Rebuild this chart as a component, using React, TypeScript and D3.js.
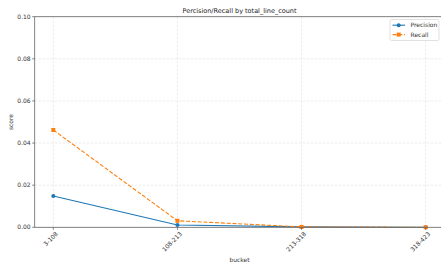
import React from "react";
import * as d3 from "d3";

const categories = ["3-108", "108-213", "213-318", "318-423"];
const precision = [0.0149, 0.0011, 0.0002, 0.0];
const recall = [0.0462, 0.0031, 0.0002, 0.0];
const yTicks = [0, 0.02, 0.04, 0.06, 0.08, 0.1];

const W = 441, H = 267;
const left = 34.7, right = 444.3, top = 16.7, bottom = 227.3;
const FONT = "DejaVu Sans, sans-serif";

export default function App() {
  const x = d3.scaleLinear().domain([-0.15, 3.15]).range([left, right]);
  const y = d3.scaleLinear().domain([0, 0.1]).range([bottom, top]);
  const line = d3.line<number>().x((_, i) => x(i)).y((d) => y(d));
  const blue = "#1f77b4", orange = "#ff7f0e";
  return (
    <svg width={W} height={H} style={{ position: "absolute", left: 0, top: 0, fontFamily: FONT }}>
      <rect x={0} y={0} width={W} height={H} fill="#fff" />
      {/* grid */}
      {categories.map((_, i) => (
        <line key={"gx" + i} x1={x(i)} x2={x(i)} y1={top} y2={bottom} stroke="#b0b0b0" strokeOpacity={0.4} strokeWidth={0.6} strokeDasharray="2.5,1.5" />
      ))}
      {yTicks.map((t) => (
        <line key={"gy" + t} x1={left} x2={right} y1={y(t)} y2={y(t)} stroke="#b0b0b0" strokeOpacity={0.4} strokeWidth={0.6} strokeDasharray="2.5,1.5" />
      ))}
      {/* lines */}
      <path d={line(precision) || ""} fill="none" stroke={blue} strokeWidth={1.1} />
      {precision.map((v, i) => (
        <circle key={"p" + i} cx={x(i)} cy={y(v)} r={2} fill={blue} />
      ))}
      <path d={line(recall) || ""} fill="none" stroke={orange} strokeWidth={1.1} strokeDasharray="4,1.8" />
      {recall.map((v, i) => (
        <rect key={"r" + i} x={x(i) - 2} y={y(v) - 2} width={4} height={4} fill={orange} />
      ))}
      {/* spines */}
      <rect x={left} y={top} width={right - left} height={bottom - top} fill="none" stroke="#666" strokeWidth={0.8} />
      {/* y ticks */}
      {yTicks.map((t) => (
        <g key={"yt" + t}>
          <line x1={left - 2.5} x2={left} y1={y(t)} y2={y(t)} stroke="#666" strokeWidth={0.8} />
          <text x={left - 4} y={y(t)} dy="0.35em" textAnchor="end" fontSize={6} fill="#333">{t.toFixed(2)}</text>
        </g>
      ))}
      {/* x ticks */}
      {categories.map((c, i) => (
        <g key={"xt" + i}>
          <line x1={x(i)} x2={x(i)} y1={bottom} y2={bottom + 2.5} stroke="#666" strokeWidth={0.8} />
          <text transform={`translate(${x(i) + 2},${bottom + 4}) rotate(-45)`} textAnchor="end" dy="0.7em" fontSize={6} fill="#333">{c}</text>
        </g>
      ))}
      {/* labels */}
      <text x={(left + right) / 2} y={13} textAnchor="middle" fontSize={6.5} fill="#222">Percision/Recall by total_line_count</text>
      <text x={239.5} y={262} textAnchor="middle" fontSize={6} fill="#333">bucket</text>
      <text transform={`translate(13,122) rotate(-90)`} textAnchor="middle" fontSize={6} fill="#333">score</text>
      {/* legend */}
      <g>
        <rect x={390} y={19.5} width={49} height={21} rx={1.5} fill="#fff" fillOpacity={0.8} stroke="#ccc" strokeWidth={0.6} />
        <line x1={392.5} x2={405} y1={25.2} y2={25.2} stroke={blue} strokeWidth={1.1} />
        <circle cx={398.7} cy={25.2} r={2} fill={blue} />
        <text x={410.5} y={25.2} dy="0.35em" fontSize={6} fill="#333">Precision</text>
        <line x1={392.5} x2={405} y1={34.6} y2={34.6} stroke={orange} strokeWidth={1.1} strokeDasharray="4,1.8" />
        <rect x={396.7} y={32.6} width={4} height={4} fill={orange} />
        <text x={410.5} y={34.6} dy="0.35em" fontSize={6} fill="#333">Recall</text>
      </g>
    </svg>
  );
}
